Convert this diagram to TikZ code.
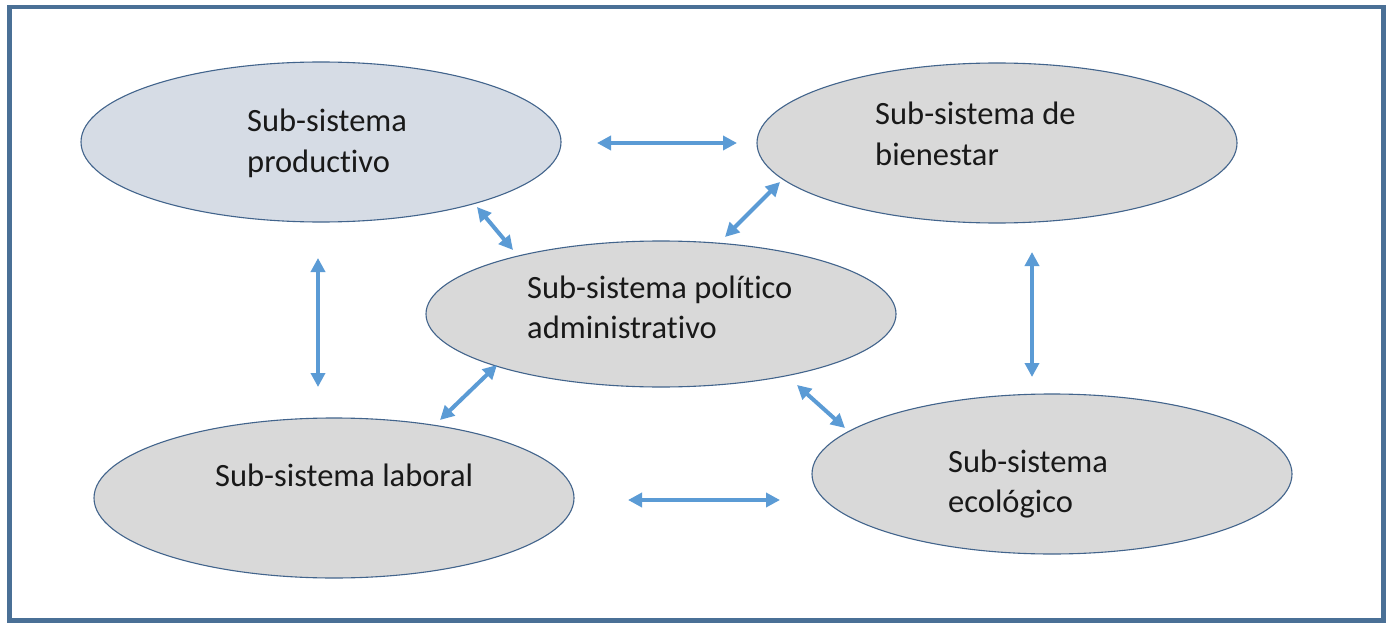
\documentclass[tikz,border=0pt]{standalone}
\usepackage{fontspec}
\setmainfont[Ligatures={NoCommon,NoRequired,NoContextual}]{Carlito}
\usetikzlibrary{shapes.geometric,arrows.meta}
\definecolor{framec}{RGB}{74,112,150}
\definecolor{edgec}{RGB}{66,100,140}
\definecolor{fillblue}{RGB}{214,220,229}
\definecolor{fillgray}{RGB}{217,217,217}
\definecolor{arrc}{RGB}{91,155,213}
\tikzset{
  sub/.style={ellipse, draw=edgec, line width=1.1pt, inner sep=0pt, minimum width=480pt, minimum height=160pt},
  lbl/.style={anchor=base west, align=left, inner sep=0pt, font=\fontsize{32.5}{40}\selectfont, text=black!90},
  arr/.style={draw=arrc, line width=4pt, {Triangle[length=14pt,width=14pt]}-{Triangle[length=14pt,width=14pt]}}
}
\begin{document}
\begin{tikzpicture}[x=1pt,y=-1pt]
\useasboundingbox (0,0) rectangle (1387,623);
\fill[white] (0,0) rectangle (1387,623);
\draw[framec, line width=4.5pt] (9.5,7) rectangle (1383.5,620.5);
% ellipses
\node[sub, fill=fillblue] (prod) at (321,142) {};
\node[sub, fill=fillgray] (bien) at (997,143) {};
\node[sub, fill=fillgray, minimum width=470pt, minimum height=146pt] (poli) at (661,314) {};
\node[sub, fill=fillgray] (labo) at (334,498) {};
\node[sub, fill=fillgray] (ecol) at (1052,474) {};
% labels (anchor = baseline of the last line)
\node[lbl] (prodt) at (247,172) {Sub-sistema\\productivo};
\node[lbl] (bient) at (875,165) {Sub-sistema de\\bienestar};
\node[lbl] (polit) at (527,338) {Sub-sistema político\\administrativo};
\node[lbl] (labot) at (215,486) {Sub-sistema laboral};
\node[lbl] (ecolt) at (948,512) {Sub-sistema\\ecológico};
% arrow end points
\coordinate (a1) at (597,143); \coordinate (b1) at (737,143);
\coordinate (a2) at (477,207); \coordinate (b2) at (513,250);
\coordinate (a3) at (780,182); \coordinate (b3) at (725,237);
\coordinate (a4) at (497,365); \coordinate (b4) at (440,420);
\coordinate (a5) at (797,385); \coordinate (b5) at (845,428);
\coordinate (a6) at (628,500); \coordinate (b6) at (780,500);
\coordinate (a7) at (1032,252); \coordinate (b7) at (1032,377);
\coordinate (a8) at (318,258); \coordinate (b8) at (318,387);
\draw[arr] (a1) -- (b1);
\draw[arr] (a2) -- (b2);
\draw[arr] (a3) -- (b3);
\draw[arr] (a4) -- (b4);
\draw[arr] (a5) -- (b5);
\draw[arr] (a6) -- (b6);
\draw[arr] (a7) -- (b7);
\draw[arr] (a8) -- (b8);
\end{tikzpicture}
\end{document}
